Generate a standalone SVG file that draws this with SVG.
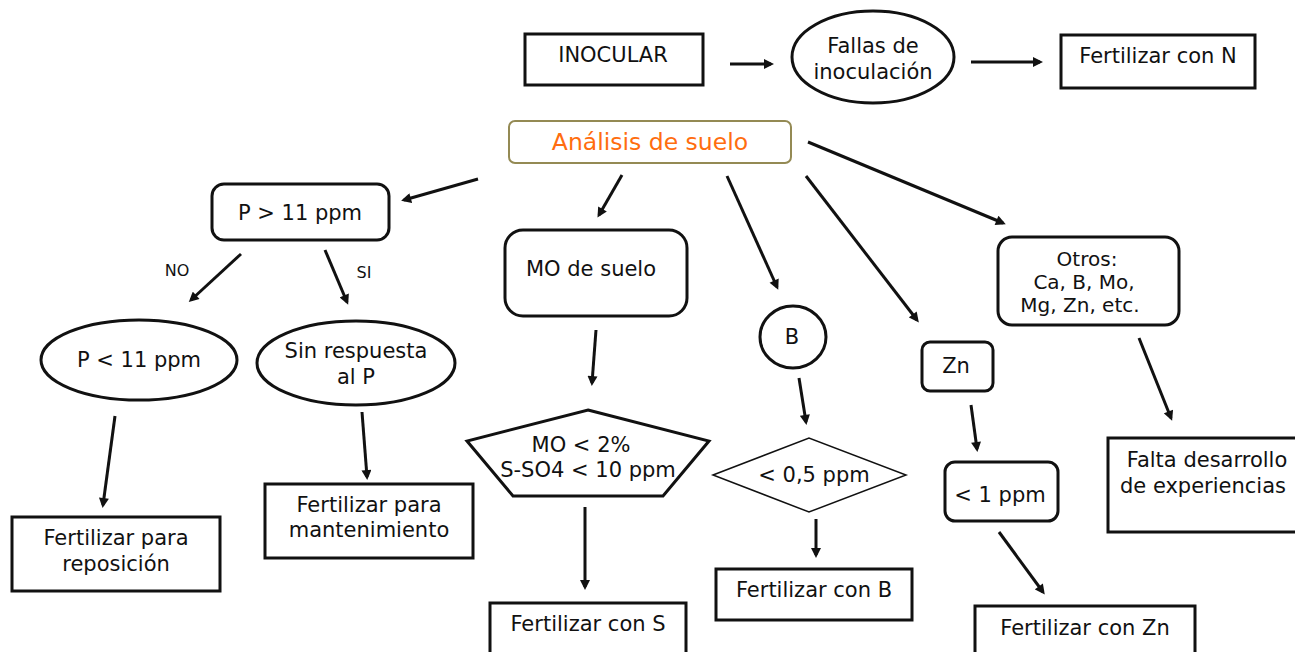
<svg xmlns="http://www.w3.org/2000/svg" width="1295" height="652" viewBox="0 0 1295 652">
<defs>
<style>
text{font-family:"DejaVu Sans","Noto Sans",sans-serif;font-size:21px;fill:#111;text-anchor:middle}
.box{fill:#fff;stroke:#111;stroke-width:3}
.thin{fill:#fff;stroke:#111;stroke-width:1.5}
.edge{stroke:#111;stroke-width:3;fill:none;marker-end:url(#ah)}
.lbl{font-size:16px}
.sm{font-size:20px}
</style>
<marker id="ah" viewBox="0 0 10 10" refX="7" refY="5" markerWidth="11" markerHeight="10" markerUnits="userSpaceOnUse" orient="auto">
<path d="M0,0 L10,5 L0,10 z" fill="#111"/>
</marker>
</defs>
<rect width="1295" height="652" fill="#fff"/>

<g id="connectors">
<line class="edge" x1="730" y1="64" x2="771" y2="64"/>
<line class="edge" x1="971" y1="62" x2="1040" y2="62"/>
<line class="edge" x1="478" y1="179" x2="404" y2="200"/>
<line class="edge" x1="622" y1="175" x2="599" y2="215"/>
<line class="edge" x1="727" y1="176" x2="777" y2="287"/>
<line class="edge" x1="806" y1="176" x2="917" y2="320"/>
<line class="edge" x1="808" y1="142" x2="1003" y2="223"/>
<line class="edge" x1="241" y1="254" x2="191" y2="300"/>
<line class="edge" x1="325" y1="250" x2="347" y2="302"/>
<line class="edge" x1="115" y1="416" x2="103" y2="505"/>
<line class="edge" x1="362" y1="412" x2="367" y2="477"/>
<line class="edge" x1="596" y1="330" x2="592" y2="383"/>
<line class="edge" x1="585" y1="507" x2="585" y2="587"/>
<line class="edge" x1="799" y1="378" x2="806" y2="422"/>
<line class="edge" x1="816" y1="519" x2="816" y2="555"/>
<line class="edge" x1="971" y1="405" x2="977" y2="449"/>
<line class="edge" x1="999" y1="532" x2="1043" y2="592"/>
<line class="edge" x1="1139" y1="338" x2="1171" y2="418"/>
<text class="lbl" x="177" y="276">NO</text>
<text class="lbl" x="364" y="278">SI</text>
</g>

<g id="inocular">
<rect class="box" x="525" y="34" width="178" height="51"/>
<text x="613" y="62">INOCULAR</text>
</g>
<g id="fallas">
<ellipse class="box" cx="873" cy="57" rx="81" ry="46"/>
<text x="873" y="53">Fallas de</text>
<text x="873" y="79">inoculación</text>
</g>
<g id="fert-n">
<rect class="box" x="1061" y="35" width="194" height="53"/>
<text x="1158" y="63">Fertilizar con N</text>
</g>
<g id="analisis">
<rect x="509" y="121" width="282" height="42" rx="6" fill="#fff" stroke="#948A54" stroke-width="2"/>
<text x="650" y="150" style="font-size:23.5px;fill:#FF6D0F">Análisis de suelo</text>
</g>
<g id="p-mayor">
<rect class="box" x="212" y="184" width="177" height="56" rx="12"/>
<text x="300" y="220">P &gt; 11 ppm</text>
</g>
<g id="p-menor">
<ellipse class="box" cx="139" cy="360" rx="98" ry="40"/>
<text x="139" y="367">P &lt; 11 ppm</text>
</g>
<g id="sin-respuesta">
<ellipse class="box" cx="356" cy="363" rx="99" ry="42"/>
<text x="356" y="358">Sin respuesta</text>
<text x="356" y="384">al P</text>
</g>
<g id="fert-reposicion">
<rect class="box" x="12" y="517" width="208" height="74"/>
<text x="116" y="545">Fertilizar para</text>
<text x="116" y="571">reposición</text>
</g>
<g id="fert-mantenimiento">
<rect class="box" x="265" y="484" width="208" height="74"/>
<text x="369" y="512">Fertilizar para</text>
<text x="369" y="537">mantenimiento</text>
</g>
<g id="mo-suelo">
<rect class="box" x="505" y="230" width="182" height="86" rx="18"/>
<text x="591" y="276">MO de suelo</text>
</g>
<g id="mo-cond">
<polygon class="box" points="588,410 709,441 663,496 513,496 467,441"/>
<text x="581" y="452">MO &lt; 2%</text>
<text x="588" y="477">S-SO4 &lt; 10 ppm</text>
</g>
<g id="fert-s">
<rect class="box" x="490" y="603" width="196" height="60"/>
<text x="588" y="631">Fertilizar con S</text>
</g>
<g id="b">
<ellipse class="box" cx="793" cy="337" rx="33" ry="31"/>
<text x="792" y="344">B</text>
</g>
<g id="b-cond">
<polygon class="thin" points="713,475 809,438 906,475 809,512"/>
<text x="814" y="482">&lt; 0,5 ppm</text>
</g>
<g id="fert-b">
<rect class="box" x="716" y="569" width="196" height="51"/>
<text x="814" y="597">Fertilizar con B</text>
</g>
<g id="zn">
<rect class="box" x="922" y="342" width="71" height="49" rx="8"/>
<text x="956" y="373">Zn</text>
</g>
<g id="zn-cond">
<rect class="box" x="945" y="462" width="113" height="59" rx="10"/>
<text x="1000" y="502">&lt; 1 ppm</text>
</g>
<g id="fert-zn">
<rect class="box" x="975" y="606" width="220" height="60"/>
<text x="1085" y="635">Fertilizar con Zn</text>
</g>
<g id="otros">
<rect class="box" x="998" y="237" width="181" height="88" rx="14"/>
<text class="sm" x="1087" y="266">Otros:</text>
<text class="sm" x="1084" y="289">Ca, B, Mo,</text>
<text class="sm" x="1080" y="312">Mg, Zn, etc.</text>
</g>
<g id="falta">
<rect class="box" x="1108" y="438" width="200" height="94"/>
<text x="1207" y="467">Falta desarrollo</text>
<text x="1203" y="493">de experiencias</text>
</g>
</svg>
